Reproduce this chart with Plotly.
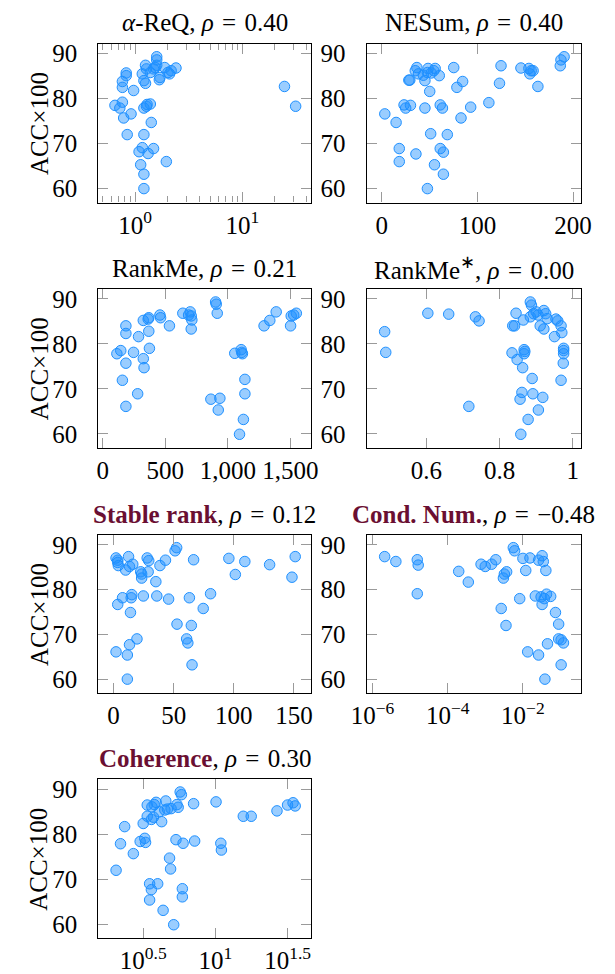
import plotly.graph_objects as go

# ---------------- data ----------------
areq_x = [0.647, 0.718, 0.759, 0.759, 0.759, 0.780, 0.824, 0.824, 0.842, 0.914, 0.966,
          1.086, 1.124, 1.164, 1.205, 1.205, 1.205, 1.205, 1.273, 1.290, 1.383, 1.318,
          1.482, 1.412, 1.164, 1.205, 1.247, 1.247, 1.273, 1.383, 1.482, 1.534, 1.587,
          1.587, 1.587, 1.678, 1.701, 1.884, 1.951, 2.020, 2.091, 2.164, 2.400, 24.7, 31.4]
areq_y = [78.5, 77.9, 79.2, 83.8, 82.5, 75.7, 85.7, 85.1, 72.0, 76.6, 81.8,
          68.2, 65.3, 69.1, 72.0, 63.2, 60.0, 77.9, 78.3, 78.7, 78.8, 67.8,
          68.9, 74.7, 85.5, 84.0, 83.4, 87.4, 86.6, 85.8, 86.6, 86.9, 87.4,
          89.3, 88.6, 84.2, 84.7, 86.9, 66.0, 85.8, 85.5, 86.2, 86.8, 82.7, 78.3]

nesum_x = [3.3, 15.1, 18.4, 18.4, 23.4, 25.1, 30.1, 28.4, 29.4, 35.8, 36.8, 35.1, 38.5,
           43.5, 45.2, 45.2, 47.8, 47.8, 48.5, 50.2, 51.2, 51.8, 54.5, 55.9, 55.2, 60.2,
           61.2, 61.2, 63.5, 64.5, 64.5, 68.6, 75.3, 78.6, 82.9, 84.6, 93.0, 112.0, 123.1,
           124.7, 145.5, 153.8, 154.8, 156.2, 158.2, 163.2, 186.6, 187.3, 190.6]
nesum_y = [76.6, 74.7, 68.9, 66.0, 78.6, 77.9, 78.5, 84.1, 84.1, 67.7, 86.9, 86.2, 85.5,
           85.2, 77.9, 84.0, 85.8, 60.0, 86.7, 81.6, 72.2, 85.7, 86.2, 86.7, 65.3, 85.1,
           78.6, 68.9, 77.9, 68.1, 63.2, 72.0, 86.9, 82.5, 75.7, 83.8, 78.1, 79.1, 83.4,
           87.3, 86.8, 86.7, 85.5, 86.2, 86.2, 82.7, 87.3, 88.6, 89.3]

rankme_x = [113, 144, 157, 185, 185, 185, 185, 246, 279, 286, 324, 324, 330, 363, 368, 368,
            373, 457, 462, 533, 640, 686, 699, 707, 712, 707, 902, 907, 915, 864, 936, 923,
            1055, 1106, 1111, 1116, 1136, 1136, 1124, 1093, 1289, 1335, 1386, 1501, 1506,
            1526, 1547]
rankme_y = [77.8, 78.5, 71.9, 84.0, 82.3, 75.7, 66.1, 78.1, 68.9, 81.6, 85.2, 76.7, 74.7,
            85.5, 85.8, 82.8, 79.0, 86.4, 85.8, 84.0, 86.8, 86.4, 87.1, 86.2, 85.3, 83.3,
            89.3, 88.8, 86.8, 67.7, 67.9, 65.3, 77.9, 78.7, 78.1, 77.8, 72.1, 68.9, 63.2,
            59.9, 84.0, 85.2, 87.1, 84.0, 86.2, 86.4, 86.8]

rankmes_x = [0.486, 0.489, 0.604, 0.661, 0.734, 0.744, 0.716, 0.834, 0.836, 0.841, 0.845,
             0.848, 0.856, 0.858, 0.861, 0.863, 0.865, 0.867, 0.867, 0.869, 0.878, 0.884,
             0.887, 0.889, 0.891, 0.884, 0.893, 0.900, 0.905, 0.906, 0.911, 0.918, 0.921,
             0.921, 0.926, 0.930, 0.950, 0.954, 0.959, 0.968, 0.970, 0.968, 0.974, 0.975,
             0.975, 0.975]
rankmes_y = [82.7, 78.1, 86.8, 86.6, 86.0, 85.1, 66.1, 78.0, 84.0, 84.0, 86.8,
             76.5, 67.7, 59.9, 69.2, 74.7, 85.3, 78.7, 77.8, 78.3, 63.2, 89.3,
             88.6, 72.3, 68.9, 86.0, 86.7, 87.1, 86.4, 65.3, 84.0, 68.1, 83.3,
             87.4, 86.7, 85.6, 81.6, 85.5, 85.1, 84.0, 82.5, 71.9, 75.7, 79.0,
             78.5, 77.8]

stable_x = [2.1, 3.5, 3.5, 4.0, 2.1, 3.5, 7.5, 10.1, 11.5, 11.5, 12.5, 13.3, 13.3, 14.1,
            14.7, 15.2, 16.0, 19.5, 22.6, 23.4, 24.8, 23.4, 28.0, 28.8, 29.3, 35.2, 36.0,
            38.6, 43.2, 45.8, 51.2, 52.5, 52.8, 60.8, 61.8, 63.1, 64.7, 65.3, 66.6, 74.6,
            80.7, 95.9, 101.3, 109.2, 129.8, 148.4, 151.1]
stable_y = [87.1, 86.6, 86.1, 85.4, 66.1, 76.7, 78.2, 84.4, 65.4, 60.0, 87.4, 85.2, 67.7,
            74.9, 78.2, 78.9, 85.7, 69.0, 84.0, 82.6, 78.6, 83.5, 87.1, 84.0, 86.5, 81.8,
            78.6, 85.4, 86.6, 77.9, 88.7, 89.4, 72.3, 69.0, 68.1, 78.2, 72.0, 63.2, 86.7,
            75.8, 79.1, 87.0, 83.4, 86.3, 85.6, 82.8, 87.4]

cond_x = [2.10e-6, 4.17e-6, 1.55e-5, 1.64e-5, 1.55e-5, 1.96e-4, 3.53e-4, 7.71e-4, 9.95e-4,
          1.47e-3, 1.90e-3, 2.65e-3, 3.03e-3, 3.21e-3, 3.69e-3, 3.55e-3, 5.56e-3, 6.01e-3,
          8.22e-3, 1.00e-2, 1.19e-2, 1.34e-2, 1.54e-2, 2.14e-2, 2.61e-2, 2.61e-2, 3.05e-2,
          3.24e-2, 3.24e-2, 3.49e-2, 3.71e-2, 3.85e-2, 4.08e-2, 4.25e-2, 4.51e-2, 5.48e-2,
          7.35e-2, 8.93e-2, 8.93e-2, 0.104, 0.104, 0.120]
cond_y = [87.4, 86.3, 86.7, 85.5, 79.1, 84.1, 81.7, 85.7, 85.2,
          85.7, 86.7, 75.8, 82.6, 83.5, 84.0, 72.0, 89.4, 88.7,
          78.0, 87.0, 84.3, 66.1, 87.1, 78.6, 65.4, 86.6, 78.4,
          87.6, 76.7, 86.3, 78.0, 60.0, 84.3, 79.0, 67.9, 78.5,
          74.9, 72.3, 69.0, 68.8, 63.2, 68.1]

coh_x = [2.05, 2.20, 2.35, 2.70, 3.01, 3.16, 3.24, 3.28, 3.37, 3.37, 3.50, 3.50, 3.60, 3.60,
         3.63, 3.72, 3.77, 3.88, 3.98, 4.08, 4.24, 4.34, 4.46, 4.53, 4.65, 4.81, 4.89, 4.93,
         5.14, 5.33, 5.41, 5.52, 5.70, 5.81, 5.90, 5.90, 5.97, 7.06, 7.18, 10.1, 10.9, 11.0,
         15.6, 17.7, 26.7, 31.6, 34.5, 35.7]
coh_y = [72.0, 77.9, 81.7, 75.7, 78.4, 82.4, 79.1, 78.2, 84.0, 86.5, 69.0, 65.4, 67.7, 83.3,
         86.1, 83.8, 86.6, 87.1, 69.0, 85.0, 82.8, 63.1, 85.4, 87.4, 85.6, 74.7, 72.3, 85.7,
         59.9, 78.8, 86.6, 86.0, 89.4, 88.8, 67.9, 66.1, 78.0, 86.8, 78.5, 87.2, 78.0, 76.5,
         84.0, 84.0, 85.2, 86.5, 87.0, 86.3]

MAROON = "#6A0F32"
EQ = "\u2004=\u2004"
titles = [
    f"<i>α</i>-ReQ, <i>ρ</i>{EQ}0.40",
    f"NESum, <i>ρ</i>{EQ}0.40",
    f"RankMe, <i>ρ</i>{EQ}0.21",
    f"RankMe<sup>∗</sup>, <i>ρ</i>{EQ}0.00",
    f"<b><span style='color:{MAROON}'>Stable rank</span></b>, <i>ρ</i>{EQ}0.12",
    f"<b><span style='color:{MAROON}'>Cond. Num.</span></b>, <i>ρ</i>{EQ}−0.48",
    f"<b><span style='color:{MAROON}'>Coherence</span></b>, <i>ρ</i>{EQ}0.30",
]
yticks = [60, 70, 80, 90]
ylabel = "ACC×100"

series = [(areq_x, areq_y), (nesum_x, nesum_y), (rankme_x, rankme_y),
          (rankmes_x, rankmes_y), (stable_x, stable_y), (cond_x, cond_y), (coh_x, coh_y)]

# ---------------- layout geometry ----------------
W, H = 615, 974
FONT = "'Liberation Serif', 'Times New Roman', serif"
FS = 25
col_px = [(86, 308), (366, 590)]
row_px = [(41, 201), (288, 448), (536, 695), (782, 942)]

def xd(c):
    a, b = col_px[c]
    return [a / W, b / W]

def yd(r):
    t, b = row_px[r]
    return [1 - b / H, 1 - t / H]

fig = go.Figure()
for i, (xs, ys) in enumerate(series):
    n = "" if i == 0 else str(i + 1)
    fig.add_trace(go.Scatter(
        x=xs, y=ys, mode="markers", xaxis="x" + n, yaxis="y" + n,
        marker=dict(symbol="circle", size=10.5, color="rgba(30,144,255,0.45)",
                    line=dict(color="rgb(30,144,255)", width=1)),
        showlegend=False, hoverinfo="skip"))

base = dict(showline=True, linecolor="black", linewidth=1.2, mirror="ticks",
            ticks="inside", ticklen=10, tickwidth=1, tickcolor="#9a9a9a",
            showgrid=False, zeroline=False,
            tickfont=dict(family=FONT, size=FS, color="black"))

xcfg = [
    dict(type="log", range=[-0.344, 1.64], tickvals=[1, 10],
         ticktext=["10<sup>0</sup>", "10<sup>1</sup>"],
         minor=dict(ticks="inside", ticklen=6, tickcolor="#9a9a9a", tickwidth=1,
                    tickvals=[0.5, 0.6, 0.7, 0.8, 0.9, 2, 3, 4, 5, 6, 7, 8, 9, 20, 30, 40])),
    dict(range=[-15.8, 208.3], tickvals=[0, 100, 200], ticktext=["0", "100", "200"]),
    dict(range=[-35, 1664], tickvals=[0, 500, 1000, 1500], ticktext=["0", "500", "1,000", "1,500"]),
    dict(range=[0.4365, 1.0226], tickvals=[0.6, 0.8, 1.0], ticktext=["0.6", "0.8", "1"]),
    dict(range=[-12.6, 164.2], tickvals=[0, 50, 100, 150], ticktext=["0", "50", "100", "150"]),
    dict(type="log", range=[-6.16, -0.453], tickvals=[1e-6, 1e-4, 1e-2],
         ticktext=["10<sup>−6</sup>", "10<sup>−4</sup>", "10<sup>−2</sup>"]),
    dict(type="log", range=[0.189, 1.662], tickvals=[10 ** 0.5, 10, 10 ** 1.5],
         ticktext=["10<sup>0.5</sup>", "10<sup>1</sup>", "10<sup>1.5</sup>"]),
]

layout = dict(width=W, height=H, margin=dict(l=0, r=0, t=0, b=0),
              paper_bgcolor="white", plot_bgcolor="white",
              font=dict(family=FONT, size=FS, color="black"))
annotations = []
for i in range(7):
    r, c = divmod(i, 2)
    n = "" if i == 0 else str(i + 1)
    xa = dict(base); xa.update(xcfg[i]); xa.update(domain=xd(c), anchor="y" + n,
                                                   ticklabelstandoff=0)
    ya = dict(base); ya.update(domain=yd(r), anchor="x" + n, range=[56.9, 92.2],
                               tickvals=yticks, ticklabelstandoff=15)
    layout["xaxis" + n] = xa
    layout["yaxis" + n] = ya
    a, b = col_px[c]
    t, bt = row_px[r]
    annotations.append(dict(text=titles[i], xref="paper", yref="paper",
                            x=(a + b) / 2 / W, y=1 - (t - 21) / H,
                            xanchor="center", yanchor="middle", showarrow=False,
                            font=dict(family=FONT, size=FS, color="black")))
    if c == 0:
        annotations.append(dict(text=ylabel, xref="paper", yref="paper",
                                x=24 / W, y=1 - (t + bt) / 2 / H, textangle=-90,
                                xanchor="center", yanchor="middle", showarrow=False,
                                font=dict(family=FONT, size=FS, color="black")))
layout["annotations"] = annotations
fig.update_layout(**layout)
fig.write_html("out.html")
